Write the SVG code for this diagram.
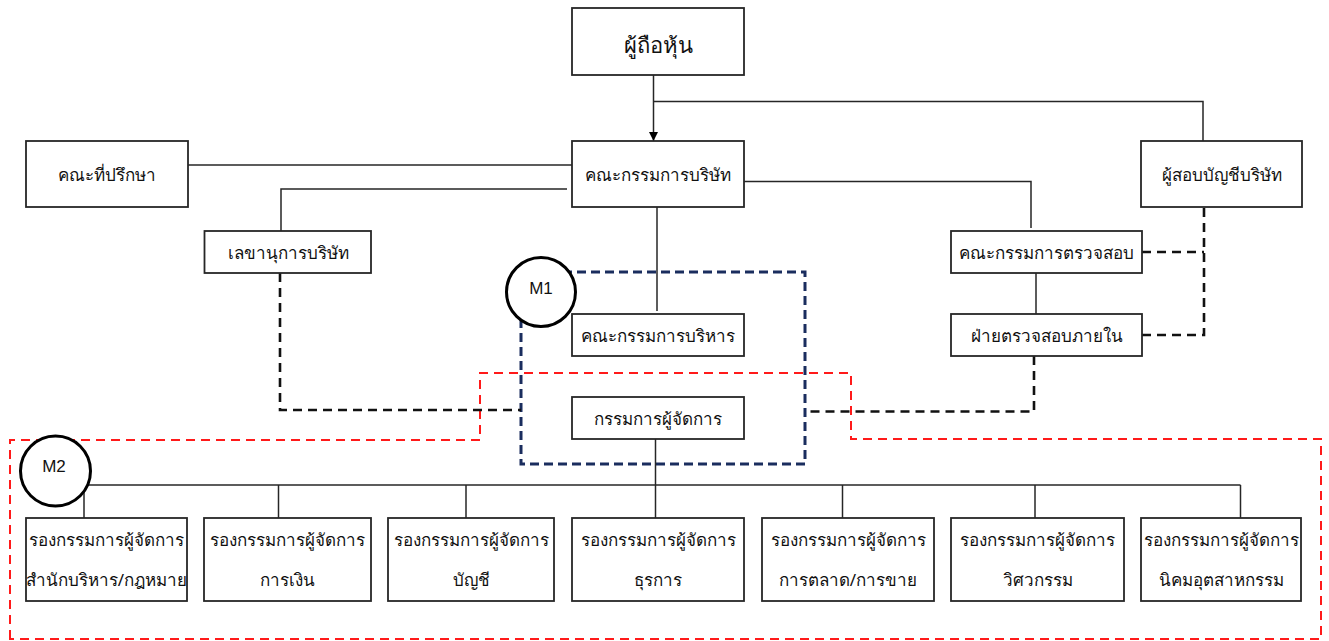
<svg xmlns="http://www.w3.org/2000/svg" width="1329" height="641" viewBox="0 0 1329 641">
<defs>
<style>
.box{fill:#fff;stroke:#262626;stroke-width:1.8}
.t{font-family:"Noto Sans","DejaVu Sans",sans-serif;font-size:17px;fill:#111;text-anchor:middle;dominant-baseline:central}
.big{font-size:22px}
.ln{fill:none;stroke:#262626;stroke-width:1.5}
.dk{fill:none;stroke:#111;stroke-width:2.6;stroke-dasharray:9 6}
.bl{fill:none;stroke:#1a2d5e;stroke-width:3;stroke-dasharray:9 5}
.rd{fill:none;stroke:#ff1a1a;stroke-width:2;stroke-dasharray:9 6}
.circ{fill:#fff;stroke:#000;stroke-width:3}
.m{font-family:"Liberation Sans",Arial,sans-serif;font-size:17px;fill:#111;text-anchor:middle;dominant-baseline:central}
</style>
<marker id="arr" viewBox="0 0 10 10" refX="10" refY="5" markerWidth="9" markerHeight="9" markerUnits="userSpaceOnUse" orient="auto">
<path d="M0,0 L10,5 L0,10 z" fill="#000"/>
</marker>
</defs>
<rect width="1329" height="641" fill="#fff"/>

<g id="groups">
<path class="rd" d="M10,639 L10,440 L480,440 L480,373 L851,373 L851,439 L1321,439 L1321,639 Z"/>
<path class="bl" d="M521,272 L805,272 L805,464 L521,464 Z"/>
</g>

<g id="connectors">
<line class="ln" x1="653.5" y1="75" x2="653.5" y2="141" marker-end="url(#arr)"/>
<polyline class="ln" points="653.5,101.5 1203,101.5 1203,141"/>
<line class="ln" x1="188" y1="165" x2="572" y2="165"/>
<polyline class="ln" points="567,189 281,189 281,231"/>
<polyline class="ln" points="744,181.5 1031,181.5 1031,228"/>
<line class="ln" x1="1036" y1="273" x2="1036" y2="314"/>
<line class="ln" x1="657" y1="207" x2="657" y2="311"/>
<line class="ln" x1="655.5" y1="439" x2="655.5" y2="518"/>
<line class="ln" x1="55" y1="485" x2="1240.5" y2="485"/>
<line class="ln" x1="84" y1="485" x2="84" y2="518"/>
<line class="ln" x1="278.5" y1="485" x2="278.5" y2="518"/>
<line class="ln" x1="466" y1="485" x2="466" y2="518"/>
<line class="ln" x1="842.5" y1="485" x2="842.5" y2="518"/>
<line class="ln" x1="1035" y1="485" x2="1035" y2="518"/>
<line class="ln" x1="1240.5" y1="485" x2="1240.5" y2="518"/>
<polyline class="dk" points="280,273 280,410 521,410"/>
<polyline class="dk" points="1034,356 1034,411.5 806,411.5"/>
<polyline class="dk" points="1204,208 1204,335 1142,335"/>
<line class="dk" x1="1142" y1="252" x2="1204" y2="252"/>
</g>

<g id="n-shareholders"><rect class="box" x="572" y="8" width="172" height="67"/><text class="t big" x="658" y="44">ผู้ถือหุ้น</text></g>
<g id="n-board"><rect class="box" x="572" y="141" width="172" height="66"/><text class="t" x="658" y="174">คณะกรรมการบริษัท</text></g>
<g id="n-advisors"><rect class="box" x="26" y="141" width="162" height="66"/><text class="t" x="107" y="174">คณะที่ปรึกษา</text></g>
<g id="n-auditor"><rect class="box" x="1141" y="141" width="161" height="66"/><text class="t" x="1221.5" y="174">ผู้สอบบัญชีบริษัท</text></g>
<g id="n-secretary"><rect class="box" x="204.5" y="231" width="166.5" height="42"/><text class="t" x="288" y="252">เลขานุการบริษัท</text></g>
<g id="n-audit-committee"><rect class="box" x="951" y="231" width="191" height="42"/><text class="t" x="1046.5" y="252">คณะกรรมการตรวจสอบ</text></g>
<g id="n-internal-audit"><rect class="box" x="951" y="314" width="191" height="42"/><text class="t" x="1046.5" y="335">ฝ่ายตรวจสอบภายใน</text></g>
<g id="n-exec"><rect class="box" x="572" y="314" width="172" height="42"/><text class="t" x="658" y="335">คณะกรรมการบริหาร</text></g>
<g id="n-md"><rect class="box" x="572" y="397" width="172" height="42"/><text class="t" x="658" y="418">กรรมการผู้จัดการ</text></g>

<g id="n-vp1"><rect class="box" x="26" y="518" width="161" height="83"/><text class="t" x="106.5" y="539">รองกรรมการผู้จัดการ</text><text class="t" x="106.5" y="579">สำนักบริหาร/กฎหมาย</text></g>
<g id="n-vp2"><rect class="box" x="204" y="518" width="167" height="83"/><text class="t" x="287.5" y="539">รองกรรมการผู้จัดการ</text><text class="t" x="287.5" y="579">การเงิน</text></g>
<g id="n-vp3"><rect class="box" x="388" y="518" width="166" height="83"/><text class="t" x="471" y="539">รองกรรมการผู้จัดการ</text><text class="t" x="471" y="579">บัญชี</text></g>
<g id="n-vp4"><rect class="box" x="572" y="518" width="172" height="83"/><text class="t" x="658" y="539">รองกรรมการผู้จัดการ</text><text class="t" x="658" y="579">ธุรการ</text></g>
<g id="n-vp5"><rect class="box" x="762" y="518" width="172" height="83"/><text class="t" x="848" y="539">รองกรรมการผู้จัดการ</text><text class="t" x="848" y="579">การตลาด/การขาย</text></g>
<g id="n-vp6"><rect class="box" x="951" y="518" width="173" height="83"/><text class="t" x="1037.5" y="539">รองกรรมการผู้จัดการ</text><text class="t" x="1037.5" y="579">วิศวกรรม</text></g>
<g id="n-vp7"><rect class="box" x="1141" y="518" width="160" height="83"/><text class="t" x="1221" y="539">รองกรรมการผู้จัดการ</text><text class="t" x="1221" y="579">นิคมอุตสาหกรรม</text></g>

<g id="m1"><circle class="circ" cx="541" cy="292" r="34.5"/><text class="m" x="541" y="288">M1</text></g>
<g id="m2"><circle class="circ" cx="55.5" cy="471" r="35"/><text class="m" x="54" y="466">M2</text></g>
</svg>
